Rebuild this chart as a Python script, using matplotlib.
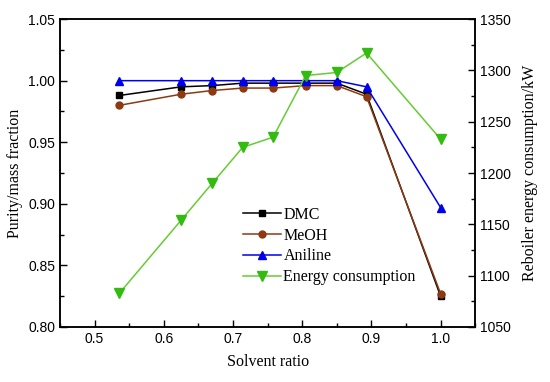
import matplotlib
matplotlib.use("Agg")
import matplotlib.pyplot as plt
from matplotlib.ticker import MultipleLocator

solvent_ratio = [0.536, 0.625, 0.670, 0.714, 0.758, 0.805, 0.850, 0.893, 1.000]
dmc = [0.988, 0.995, 0.996, 0.998, 0.998, 0.998, 0.998, 0.989, 0.825]
meoh = [0.980, 0.989, 0.992, 0.994, 0.994, 0.996, 0.996, 0.987, 0.827]
aniline = [1.000, 1.000, 1.000, 1.000, 1.000, 1.000, 1.000, 0.995, 0.897]
energy = [1083, 1154, 1190, 1225, 1235, 1295, 1298, 1317, 1233]

serif = "Liberation Serif"
sans = "Liberation Sans"

fig = plt.figure(figsize=(5.5, 3.82), dpi=100)
ax = fig.add_axes([0.109, 0.144, 0.755, 0.806])
ax2 = ax.twinx()

ax.plot(solvent_ratio, dmc, color="black", marker="s", ms=4.5, lw=1.1, label="DMC")
ax.plot(solvent_ratio, meoh, color="#8B3A12", marker="o", ms=5, lw=1.1, label="MeOH")
ax.plot(solvent_ratio, aniline, color="#0000EE", marker="^", ms=5.5, lw=1.1, label="Aniline")
ax2.plot(solvent_ratio, energy, color="#66CC33", marker="v", ms=6.5, lw=1.1,
         mfc="#33BB11", mec="#33BB11", label="Energy consumption")

ax.set_xlim(0.45, 1.05)
ax.set_ylim(0.80, 1.05)
ax2.set_ylim(1050, 1350)

ax.xaxis.set_minor_locator(MultipleLocator(0.05))
ax.yaxis.set_minor_locator(MultipleLocator(0.025))
ax2.yaxis.set_major_locator(MultipleLocator(50))
ax2.yaxis.set_minor_locator(MultipleLocator(25))

ax.set_xticks([0.5, 0.6, 0.7, 0.8, 0.9, 1.0])
ax.set_xticklabels(["0.5", "0.6", "0.7", "0.8", "0.9", "1.0"])
ax.set_yticks([0.80, 0.85, 0.90, 0.95, 1.00, 1.05])
ax.set_yticklabels(["0.80", "0.85", "0.90", "0.95", "1.00", "1.05"])

for a in (ax, ax2):
    a.tick_params(which="both", direction="in", labelsize=10, width=1)
    a.tick_params(which="major", length=5)
    a.tick_params(which="minor", length=3)
    for lab in a.get_xticklabels() + a.get_yticklabels():
        lab.set_fontfamily(sans)
    for s in a.spines.values():
        s.set_linewidth(1.1)
ax.tick_params(axis="y", which="both", right=False)
ax.tick_params(axis="x", which="both", top=False)

ax.set_xlabel("Solvent ratio", fontfamily=serif, fontsize=11.5, labelpad=6)
ax.set_ylabel("Purity/mass fraction", fontfamily=serif, fontsize=11.5, labelpad=4)
ax2.set_ylabel("Reboiler energy consumption/kW", fontfamily=serif, fontsize=11.5, labelpad=8)

h1, l1 = ax.get_legend_handles_labels()
h2, l2 = ax2.get_legend_handles_labels()
ax2.legend(h1 + h2, l1 + l2, loc="upper left", bbox_to_anchor=(0.44, 0.39),
           frameon=False, borderaxespad=0, borderpad=0, handlelength=2.4,
           handletextpad=0.15, labelspacing=0.3, prop={"family": serif, "size": 11.5})

fig.savefig("out.png", dpi=100)
